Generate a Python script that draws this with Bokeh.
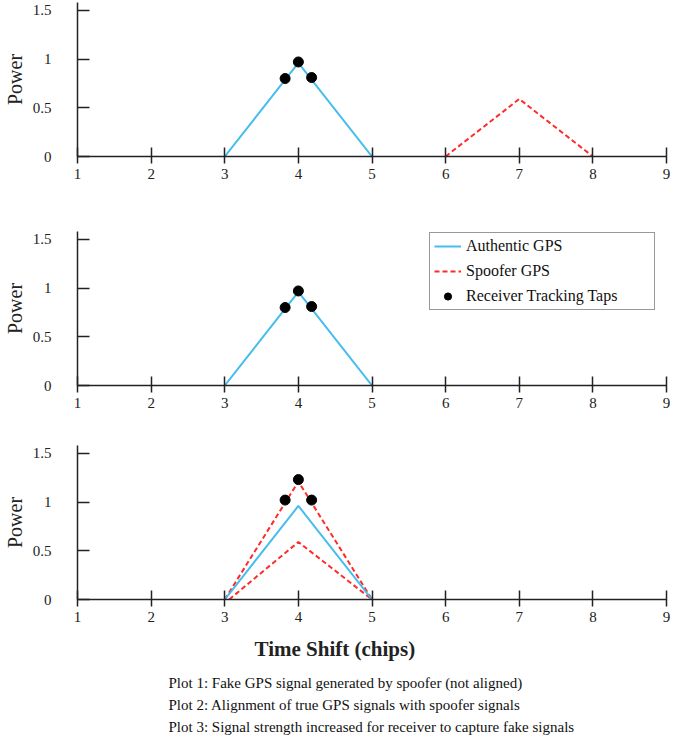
from bokeh.plotting import figure
from bokeh.layouts import column
from bokeh.models import (Range1d, FixedTicker, NumeralTickFormatter, Legend,
                          LegendItem, Title)
from bokeh.embed import file_html
from bokeh.resources import INLINE

# ---------------- data ----------------
x_ticks = [1, 2, 3, 4, 5, 6, 7, 8, 9]
y_ticks = [0, 0.5, 1, 1.5]

authentic_x = [3, 4, 5]
authentic_y = [0, 0.96, 0]

spoofer1_x = [6, 7, 8]
spoofer1_y = [0, 0.59, 0]

taps_x = [3.82, 4.0, 4.18]
taps12_y = [0.80, 0.97, 0.81]

spoofer3_strong_x = [3.0, 4.0, 5.0]
spoofer3_strong_y = [0, 1.21, 0]
spoofer3_weak_x = [3.06, 4.0, 5.0]
spoofer3_weak_y = [0, 0.59, 0]
taps3_y = [1.02, 1.23, 1.02]

legend_labels = ["Authentic GPS", "Spoofer GPS", "Receiver Tracking Taps"]
x_title = "Time Shift (chips)"
y_title = "Power"
captions = [
    "Plot 1: Fake GPS signal generated by spoofer (not aligned)",
    "Plot 2: Alignment of true GPS signals with spoofer signals",
    "Plot 3: Signal strength increased for receiver to capture fake signals",
]

# ---------------- style ----------------
SERIF = "Liberation Serif"
BLUE = "#45BDEE"
RED = "#FF2B2B"
AX = "#222222"
W = 685
LEFT = 76
RIGHT = 19


def make_fig(height, top, bottom):
    p = figure(width=W, height=height, output_backend="svg", toolbar_location=None,
               x_range=Range1d(1, 9), y_range=Range1d(0, 1.58),
               min_border_left=LEFT, min_border_right=RIGHT,
               min_border_top=top, min_border_bottom=bottom)
    p.outline_line_color = None
    p.grid.visible = False
    p.background_fill_color = "white"
    p.border_fill_color = "white"
    for ax in (p.xaxis[0], p.yaxis[0]):
        ax.axis_line_color = AX
        ax.axis_line_width = 1.5
        ax.major_tick_line_color = AX
        ax.major_tick_line_width = 1.5
        ax.minor_tick_line_color = None
        ax.major_label_text_font = SERIF
        ax.major_label_text_font_size = "15px"
        ax.major_label_text_color = "#222222"
    xa = p.xaxis[0]
    xa.ticker = FixedTicker(ticks=x_ticks)
    xa.major_tick_in = 9
    xa.major_tick_out = 7
    xa.major_label_standoff = 5
    ya = p.yaxis[0]
    ya.ticker = FixedTicker(ticks=y_ticks)
    ya.formatter = NumeralTickFormatter(format="0.[0]")
    ya.major_tick_in = 12
    ya.major_tick_out = 0
    ya.major_label_standoff = 26
    ya.axis_label = y_title
    ya.axis_label_text_font = SERIF
    ya.axis_label_text_font_size = "20px"
    ya.axis_label_text_font_style = "normal"
    ya.axis_label_text_color = "#222222"
    ya.axis_label_standoff = 4
    return p


# ---------------- plot 1 ----------------
p1 = make_fig(221, 2, 65)
p1.line(authentic_x, authentic_y, line_color=BLUE, line_width=2)
p1.line(spoofer1_x, spoofer1_y, line_color=RED, line_width=2, line_dash="5 3")
p1.scatter(taps_x, taps12_y, size=10, color="black")

# ---------------- plot 2 ----------------
p2 = make_fig(214, 10, 50)
r_auth = p2.line(authentic_x, authentic_y, line_color=BLUE, line_width=2)
r_spoof = p2.line(spoofer1_x, spoofer1_y, line_color=RED, line_width=2,
                  line_dash="5 3", visible=False)
r_taps = p2.scatter(taps_x, taps12_y, size=10, color="black")
legend = Legend(
    items=[LegendItem(label=legend_labels[0], renderers=[r_auth]),
           LegendItem(label=legend_labels[1], renderers=[r_spoof]),
           LegendItem(label=legend_labels[2], renderers=[r_taps])],
    location=(352, 75),
    orientation="vertical",
    label_text_font=SERIF, label_text_font_size="16px", label_text_color="#111111",
    glyph_width=27, glyph_height=18, label_height=18, label_width=184,
    label_standoff=5, spacing=7, padding=4, margin=0,
    border_line_color="#333333", border_line_width=1.2,
    background_fill_color="white", background_fill_alpha=1.0,
    inactive_fill_alpha=0.0,
)
p2.add_layout(legend, "center")

# ---------------- plot 3 ----------------
p3 = make_fig(305, 10, 141)
p3.line(spoofer3_weak_x, spoofer3_weak_y, line_color=RED, line_width=2, line_dash="5 3")
p3.line(spoofer3_strong_x, spoofer3_strong_y, line_color=RED, line_width=2, line_dash="5 3")
p3.line(authentic_x, authentic_y, line_color=BLUE, line_width=2)
p3.scatter(taps_x, taps3_y, size=10, color="black")

p3.add_layout(Title(text=x_title, align="left", offset=177, standoff=20,
                    text_font=SERIF, text_font_size="21px", text_font_style="bold",
                    text_color="#222222"), "below")
for i, cap in enumerate(captions):
    p3.add_layout(Title(text=cap, align="left", offset=91, standoff=4,
                        text_font=SERIF, text_font_size="15px", text_font_style="normal",
                        text_color="#111111"), "below")

layout = column(p1, p2, p3, spacing=0)
open("out.html", "w").write(file_html(layout, INLINE))
